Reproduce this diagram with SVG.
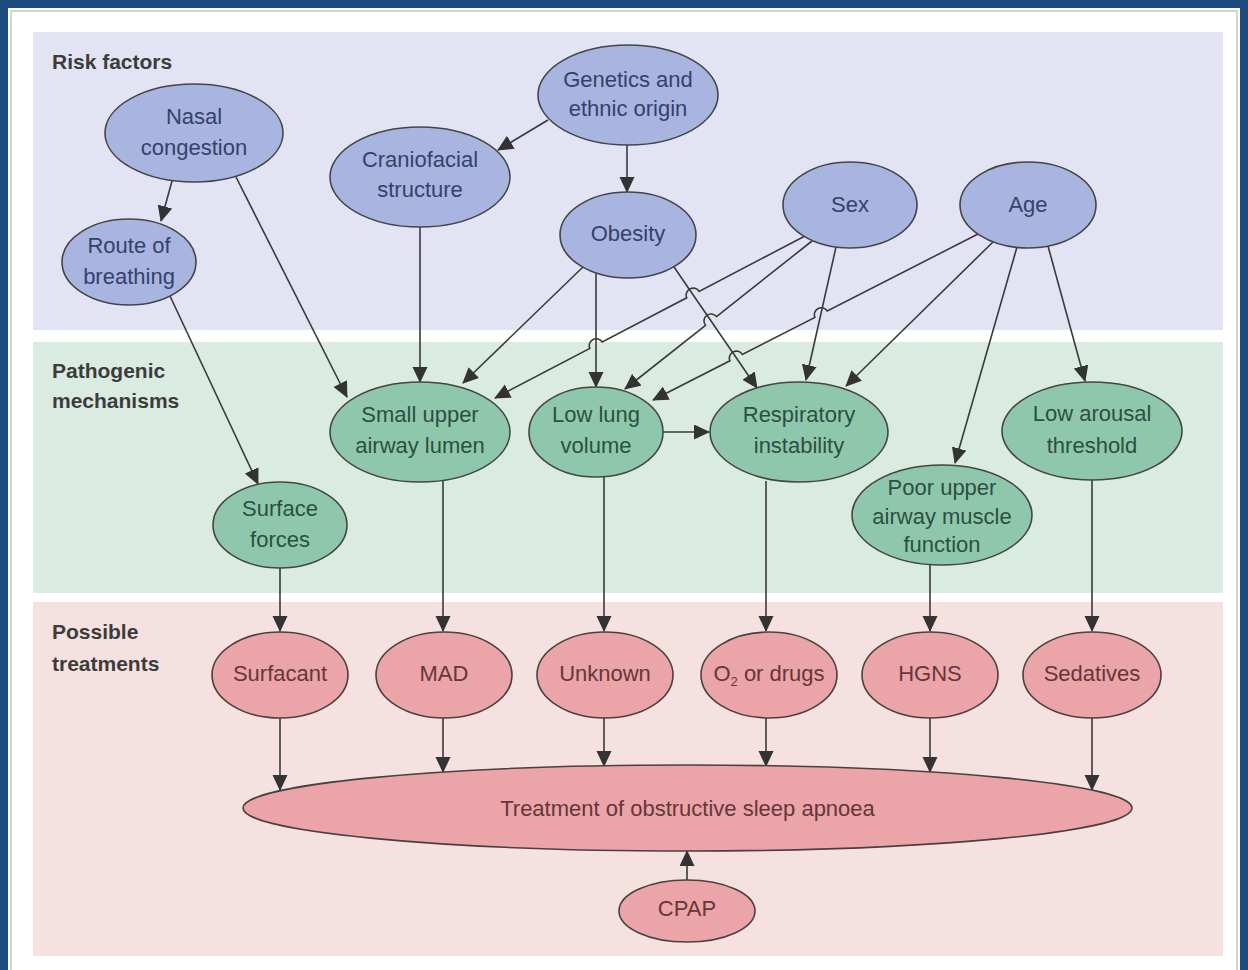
<svg xmlns="http://www.w3.org/2000/svg" width="1248" height="970" viewBox="0 0 1248 970">
<style>
.t{font-family:"Liberation Sans",Arial,sans-serif;font-size:22px;text-anchor:middle}
.sec{font-family:"Liberation Sans",Arial,sans-serif;font-size:21px;font-weight:bold;fill:#3c3c3c}
.rf{fill:#a8b5e0;stroke:#454545;stroke-width:1.6}
.pm{fill:#8fc7ad;stroke:#454545;stroke-width:1.6}
.tr{fill:#eba4a8;stroke:#4a4040;stroke-width:1.6}
.rt{fill:#36416a}
.pt{fill:#2b5041}
.tt{fill:#663638}
.e{fill:none;stroke:#3a3a3a;stroke-width:1.6;marker-end:url(#ah)}
</style>
<defs>
<marker id="ah" markerWidth="16" markerHeight="16" refX="15" refY="7.5" orient="auto" markerUnits="userSpaceOnUse">
<path d="M0,0 L16,7.5 L0,15 z" fill="#333"/>
</marker>
</defs>
<!-- frame -->
<rect x="0" y="0" width="1248" height="970" fill="#ffffff"/>
<rect x="4" y="4" width="1240" height="1000" fill="none" stroke="#1e4b7e" stroke-width="8"/>
<rect x="11" y="11" width="1226" height="990" fill="none" stroke="#b8cec0" stroke-width="1.5"/>
<!-- bands -->
<g id="bands">
<rect x="33" y="32" width="1190" height="298" fill="#e2e4f3"/>
<rect x="33" y="342" width="1190" height="251" fill="#daebe2"/>
<rect x="33" y="602" width="1190" height="354" fill="#f6e1e1"/>
<text class="sec" x="52" y="69">Risk factors</text>
<text class="sec" x="52" y="378">Pathogenic</text>
<text class="sec" x="52" y="408">mechanisms</text>
<text class="sec" x="52" y="639">Possible</text>
<text class="sec" x="52" y="671">treatments</text>
</g>
<!-- connectors -->
<g id="connectors">
<path class="e" d="M172,181 L161,221"/>
<path class="e" d="M236,177 L347,397"/>
<path class="e" d="M170,296 L258,484"/>
<path class="e" d="M420,227 L420,382"/>
<path class="e" d="M548,120 L498,150"/>
<path class="e" d="M627,145 L627,192"/>
<path class="e" d="M583,267 L463,383"/>
<path class="e" d="M596,273 L596,387"/>
<path class="e" d="M674,267 L757,388"/>
<path class="e" d="M805,236 L699.1,291.4 A7,7 0 0 0 686.7,297.8 L602.2,342.0 A7,7 0 0 0 589.8,348.4 L495,398"/>
<path class="e" d="M812,241 L716.5,316.6 A7,7 0 0 0 705.5,325.3 L625,389"/>
<path class="e" d="M836,247 L806,380"/>
<path class="e" d="M978,234 L827.3,311.0 A7,7 0 0 0 814.9,317.4 L742.3,354.4 A7,7 0 0 0 729.9,360.8 L653,400"/>
<path class="e" d="M993,242 L846,386"/>
<path class="e" d="M1017,247 L955,463"/>
<path class="e" d="M1048,246 L1085,381"/>
<path class="e" d="M663,432 L709,432"/>
<path class="e" d="M280,568 L280,631"/>
<path class="e" d="M443,481 L443,631"/>
<path class="e" d="M604,476 L604,631"/>
<path class="e" d="M766,481 L766,631"/>
<path class="e" d="M930,565 L930,631"/>
<path class="e" d="M1092,480 L1092,631"/>
<path class="e" d="M280,718 L280,790"/>
<path class="e" d="M443,718 L443,772"/>
<path class="e" d="M604,718 L604,766"/>
<path class="e" d="M766,718 L766,766"/>
<path class="e" d="M930,718 L930,772"/>
<path class="e" d="M1092,718 L1092,790"/>
<path class="e" d="M687,880 L687,851"/>
</g>
<!-- risk factors -->
<g id="nasal"><ellipse class="rf" cx="194" cy="133" rx="89" ry="49"/><text class="t rt" x="194" y="124">Nasal</text><text class="t rt" x="194" y="155">congestion</text></g>
<g id="route"><ellipse class="rf" cx="129" cy="262" rx="67" ry="43"/><text class="t rt" x="129" y="253">Route of</text><text class="t rt" x="129" y="284">breathing</text></g>
<g id="cranio"><ellipse class="rf" cx="420" cy="177" rx="90" ry="50"/><text class="t rt" x="420" y="167">Craniofacial</text><text class="t rt" x="420" y="197">structure</text></g>
<g id="genetics"><ellipse class="rf" cx="628" cy="95" rx="90" ry="50"/><text class="t rt" x="628" y="87">Genetics and</text><text class="t rt" x="628" y="116">ethnic origin</text></g>
<g id="obesity"><ellipse class="rf" cx="628" cy="235" rx="68" ry="43"/><text class="t rt" x="628" y="241">Obesity</text></g>
<g id="sex"><ellipse class="rf" cx="850" cy="205" rx="67" ry="43"/><text class="t rt" x="850" y="212">Sex</text></g>
<g id="age"><ellipse class="rf" cx="1028" cy="205" rx="68" ry="43"/><text class="t rt" x="1028" y="212">Age</text></g>
<!-- pathogenic mechanisms -->
<g id="sua"><ellipse class="pm" cx="420" cy="432" rx="90" ry="50"/><text class="t pt" x="420" y="422">Small upper</text><text class="t pt" x="420" y="453">airway lumen</text></g>
<g id="llv"><ellipse class="pm" cx="596" cy="432" rx="67" ry="45"/><text class="t pt" x="596" y="422">Low lung</text><text class="t pt" x="596" y="453">volume</text></g>
<g id="resp"><ellipse class="pm" cx="799" cy="432" rx="89" ry="50"/><text class="t pt" x="799" y="422">Respiratory</text><text class="t pt" x="799" y="453">instability</text></g>
<g id="arousal"><ellipse class="pm" cx="1092" cy="431" rx="90" ry="49"/><text class="t pt" x="1092" y="421">Low arousal</text><text class="t pt" x="1092" y="453">threshold</text></g>
<g id="surface"><ellipse class="pm" cx="280" cy="525" rx="67" ry="43"/><text class="t pt" x="280" y="516">Surface</text><text class="t pt" x="280" y="547">forces</text></g>
<g id="poor"><ellipse class="pm" cx="942" cy="515" rx="90" ry="50"/><text class="t pt" x="942" y="495">Poor upper</text><text class="t pt" x="942" y="524">airway muscle</text><text class="t pt" x="942" y="552">function</text></g>
<!-- treatments -->
<g id="surfacant"><ellipse class="tr" cx="280" cy="675" rx="68" ry="43"/><text class="t tt" x="280" y="681">Surfacant</text></g>
<g id="mad"><ellipse class="tr" cx="444" cy="675" rx="68" ry="43"/><text class="t tt" x="444" y="681">MAD</text></g>
<g id="unknown"><ellipse class="tr" cx="605" cy="675" rx="68" ry="43"/><text class="t tt" x="605" y="681">Unknown</text></g>
<g id="o2"><ellipse class="tr" cx="769" cy="675" rx="68" ry="43"/><text class="t tt" x="769" y="681">O<tspan font-size="13" dy="5">2</tspan><tspan dy="-5"> or drugs</tspan></text></g>
<g id="hgns"><ellipse class="tr" cx="930" cy="675" rx="68" ry="43"/><text class="t tt" x="930" y="681">HGNS</text></g>
<g id="sedatives"><ellipse class="tr" cx="1092" cy="675" rx="69" ry="43"/><text class="t tt" x="1092" y="681">Sedatives</text></g>
<g id="osa"><ellipse class="tr" cx="687.5" cy="808" rx="444.5" ry="43"/><text class="t tt" x="687.5" y="816">Treatment of obstructive sleep apnoea</text></g>
<g id="cpap"><ellipse class="tr" cx="687" cy="911" rx="68" ry="31"/><text class="t tt" x="687" y="916">CPAP</text></g>
</svg>
